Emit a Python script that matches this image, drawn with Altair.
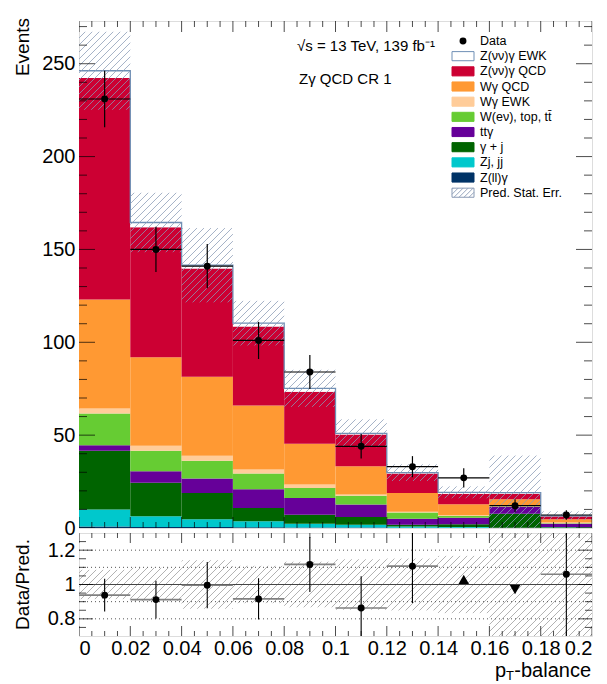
import numpy as np
import pandas as pd
import altair as alt

FONT = "Liberation Sans"

# ---------------------------------------------------------------- data
bin_lo = [0.00, 0.02, 0.04, 0.06, 0.08, 0.10, 0.12, 0.14, 0.16, 0.18]
bin_hi = [0.02, 0.04, 0.06, 0.08, 0.10, 0.12, 0.14, 0.16, 0.18, 0.20]
bin_mid = [0.01, 0.03, 0.05, 0.07, 0.09, 0.11, 0.13, 0.15, 0.17, 0.19]

# stacked predictions, bottom to top
proc_names = ["Z(ll)γ", "Zj, jj", "γ + j", "ttγ", "W(eν), top, tt\u0304",
              "Wγ EWK", "Wγ QCD", "Z(νν)γ QCD", "Z(νν)γ EWK"]
proc_colors = ["#003366", "#00c8cc", "#006400", "#660099", "#66cc33",
               "#ffcc99", "#ff9933", "#cc0033", "#ffffff"]

y_zll   = [0.8, 0.6, 0.5, 0.4, 0.3, 0.3, 0.2, 0.2, 0.1, 0.1]
y_zjjj  = [9.2, 5.7, 4.2, 3.2, 2.0, 1.5, 0.6, 0.3, 0.1, 0.2]
y_gj    = [31.6, 18.0, 14.2, 7.2, 4.9, 4.1, 1.0, 1.5, 7.5, 0.3]
y_ttg   = [3.0, 6.3, 7.7, 10.1, 9.0, 6.7, 3.2, 3.5, 3.6, 1.7]
y_wev   = [17.1, 11.0, 9.6, 8.4, 5.4, 4.7, 3.3, 1.0, 0.3, 0.3]
y_wgewk = [2.7, 2.7, 2.7, 2.2, 1.8, 0.7, 0.5, 0.5, 0.2, 0.3]
y_wgqcd = [58.6, 47.7, 42.5, 34.4, 22.0, 15.3, 10.1, 5.8, 3.7, 1.8]
y_zqcd  = [119.3, 70.0, 58.3, 42.6, 28.0, 17.1, 10.4, 5.7, 3.0, 1.6]
y_zewk  = [3.9, 2.5, 1.8, 1.8, 1.8, 0.6, 0.5, 0.7, 0.5, 0.3]
proc_yields = [y_zll, y_zjjj, y_gj, y_ttg, y_wev, y_wgewk, y_wgqcd, y_zqcd, y_zewk]

pred_stat_err = [21.0, 16.0, 20.0, 12.0, 10.0, 7.5, 4.5, 3.2, 20.0, 2.4]

data_events = [231, 150, 141, 101, 84, 44, 33, 27, 12, 7]
data_err = [15.2, 12.2, 11.9, 10.0, 9.2, 6.6, 5.7, 5.2, 3.5, 2.6]

# ratio panel: points inside the range, and arrows for those outside
ratio_x = [0.01, 0.03, 0.05, 0.07, 0.09, 0.11, 0.13, 0.19]
ratio_lo = [0.00, 0.02, 0.04, 0.06, 0.08, 0.10, 0.12, 0.18]
ratio_hi = [0.02, 0.04, 0.06, 0.08, 0.10, 0.12, 0.14, 0.20]
ratio_val = [0.938, 0.912, 0.996, 0.916, 1.117, 0.863, 1.107, 1.06]
ratio_err = [0.095, 0.11, 0.135, 0.12, 0.16, 0.185, 0.215, 0.42]
arrow_x = [0.15, 0.17]
arrow_y = [1.03, 0.97]
arrow_shape = ["triangle-up", "triangle-down"]

legend_labels = ["Data", "Z(νν)γ EWK", "Z(νν)γ QCD", "Wγ QCD", "Wγ EWK",
                 "W(eν), top, tt\u0304", "ttγ", "γ + j", "Zj, jj", "Z(ll)γ",
                 "Pred. Stat. Err."]

# ---------------------------------------------------------------- geometry
W, H = 513, 507          # upper pad plot area
RH = 103                 # ratio pad plot area
XDOM = [0.0, 0.2]
YDOM = [0.0, 273.0]
RDOM = [0.7, 1.3]
EWK_LINE = "#6f8fb5"
HATCH_MAIN = "#8a9bb5"
HATCH_RATIO = "#a9a9a9"

xs = alt.Scale(domain=XDOM, nice=False, zero=False)
ys = alt.Scale(domain=YDOM, nice=False, zero=False)
rs = alt.Scale(domain=RDOM, nice=False, zero=False)


def hatch_segments(x0, x1, y0, y1, ydom, h, spacing=7.0):
    """Diagonal '/' hatch lines filling a box, returned in data units."""
    span = ydom[1] - ydom[0]
    u0, u1 = x0 / XDOM[1] * W, x1 / XDOM[1] * W
    v0 = (max(y0, ydom[0]) - ydom[0]) / span * h
    v1 = (min(y1, ydom[1]) - ydom[0]) / span * h
    out = []
    k0 = int(np.floor((v0 - u1) / spacing))
    k1 = int(np.ceil((v1 - u0) / spacing))
    for k in range(k0, k1 + 1):
        c = k * spacing
        ua, ub = max(u0, v0 - c), min(u1, v1 - c)
        if ub - ua > 0.4:
            out.append({"hx": ua / W * XDOM[1], "hx2": ub / W * XDOM[1],
                        "hy": ydom[0] + (ua + c) / h * span,
                        "hy2": ydom[0] + (ub + c) / h * span})
    return out


# ---------------------------------------------------------------- upper pad
rows, totals = [], []
for i in range(len(bin_lo)):
    base = 0.0
    for name, vals in zip(proc_names, proc_yields):
        rows.append({"lo": bin_lo[i], "hi": bin_hi[i], "y0": base,
                     "y1": base + vals[i], "proc": name})
        base += vals[i]
    totals.append(base)
stack_df = pd.DataFrame(rows)

stack = alt.Chart(stack_df).mark_rect(strokeWidth=0).encode(
    x=alt.X("lo:Q", scale=xs, axis=None),
    x2="hi:Q",
    y=alt.Y("y0:Q", scale=ys,
            axis=alt.Axis(values=[0, 50, 100, 150, 200, 250], ticks=False,
                          domain=False, grid=False, labelFont=FONT,
                          labelFontSize=20, labelPadding=4, labelColor="black",
                          title=None)),
    y2="y1:Q",
    color=alt.Color("proc:N", scale=alt.Scale(domain=proc_names, range=proc_colors),
                    legend=None),
)

outline_df = pd.DataFrame({"edge": bin_lo + [bin_hi[-1]], "tot": totals + [totals[-1]]})
outline = alt.Chart(outline_df).mark_line(
    interpolate="step-after", color=EWK_LINE, strokeWidth=1.3, clip=True
).encode(x=alt.X("edge:Q", scale=xs), y=alt.Y("tot:Q", scale=ys))

hsegs = []
for i in range(len(bin_lo)):
    hsegs += hatch_segments(bin_lo[i], bin_hi[i], totals[i] - pred_stat_err[i],
                            totals[i] + pred_stat_err[i], YDOM, H)
hatch_main = alt.Chart(pd.DataFrame(hsegs)).mark_rule(
    color=HATCH_MAIN, strokeWidth=0.9, opacity=0.85, clip=True
).encode(x=alt.X("hx:Q", scale=xs), x2="hx2:Q",
         y=alt.Y("hy:Q", scale=ys), y2="hy2:Q")

data_df = pd.DataFrame({"lo": bin_lo, "hi": bin_hi, "mid": bin_mid,
                        "n": data_events, "err": data_err})
data_df["nlo"] = data_df["n"] - data_df["err"]
data_df["nhi"] = data_df["n"] + data_df["err"]
data_base = alt.Chart(data_df)
data_xbar = data_base.mark_rule(color="black", strokeWidth=1.2).encode(
    x=alt.X("lo:Q", scale=xs), x2="hi:Q", y=alt.Y("n:Q", scale=ys))
data_ybar = data_base.mark_rule(color="black", strokeWidth=1.2).encode(
    x=alt.X("mid:Q", scale=xs), y=alt.Y("nlo:Q", scale=ys), y2="nhi:Q")
data_pts = data_base.mark_circle(color="black", opacity=1, size=48).encode(
    x=alt.X("mid:Q", scale=xs), y=alt.Y("n:Q", scale=ys))

# inward ticks on all four sides of the upper pad
ymaj = [0, 50, 100, 150, 200, 250]
ymin = [v for v in range(0, 271, 10) if v % 50]
xmaj = [0.00, 0.02, 0.04, 0.06, 0.08, 0.10, 0.12, 0.14, 0.16, 0.18, 0.20]
xmin = [round(0.005 * k, 3) for k in range(41) if k % 4]

ytick_df = pd.DataFrame(
    [{"v": v, "pos": p, "len": 32} for v in ymaj for p in XDOM]
    + [{"v": v, "pos": p, "len": 16} for v in ymin for p in XDOM])
xtick_df = pd.DataFrame(
    [{"v": v, "pos": p, "len": 22} for v in xmaj for p in YDOM]
    + [{"v": v, "pos": p, "len": 12} for v in xmin for p in YDOM])
yticks_main = alt.Chart(ytick_df).mark_tick(
    orient="horizontal", color="black", thickness=1, clip=True
).encode(x=alt.X("pos:Q", scale=xs), y=alt.Y("v:Q", scale=ys),
         size=alt.Size("len:Q", scale=None))
xticks_main = alt.Chart(xtick_df).mark_tick(
    orient="vertical", color="black", thickness=1, clip=True
).encode(x=alt.X("v:Q", scale=xs), y=alt.Y("pos:Q", scale=ys),
         size=alt.Size("len:Q", scale=None))

def label(text, x, y, size, **kw):
    return alt.Chart(pd.DataFrame({"t": [text]})).mark_text(
        font=FONT, fontSize=size, color="black", **kw
    ).encode(text="t:N", x=alt.value(x), y=alt.value(y))

events_title = label("Events", -56, -3, 19, angle=270, align="right", baseline="middle")
energy = label("√s = 13 TeV, 139 fb⁻¹", 218, 25, 15, align="left", baseline="middle")
region = label("Zγ QCD CR 1", 220, 58, 15, align="left", baseline="middle")

main = alt.layer(stack, outline, hatch_main, data_xbar, data_ybar, data_pts,
                 yticks_main, xticks_main, events_title, energy, region)

# legend (own vertical scale: one row per entry)
LROW = alt.Scale(domain=[0, 10], range=[20, 171.7])
box_df = pd.DataFrame({
    "row": list(range(1, 11)),
    "name": legend_labels[1:],
    "fill": ["#ffffff", "#cc0033", "#ff9933", "#ffcc99", "#66cc33",
             "#660099", "#006400", "#00c8cc", "#003366", "#ffffff"],
    "edge": [EWK_LINE, "#cc0033", "#ff9933", "#ffcc99", "#66cc33",
             "#660099", "#006400", "#00c8cc", "#003366", HATCH_MAIN],
})
box_df["r0"] = box_df["row"] - 0.3
box_df["r1"] = box_df["row"] + 0.3
leg_boxes = alt.Chart(box_df).mark_rect(strokeWidth=1).encode(
    x=alt.value(373), x2=alt.value(395),
    y=alt.Y("r0:Q", scale=LROW, axis=None), y2="r1:Q",
    fill=alt.Fill("fill:N", scale=None), stroke=alt.Stroke("edge:N", scale=None))

# hatch inside the "Pred. Stat. Err." box
lh = []
u0, u1 = 373.0, 395.0
v0, v1 = 0.0, 0.6 * 15.17
for k in range(-80, 10):
    c = k * 5.0
    ua, ub = max(u0, v0 - c), min(u1, v1 - c)
    if ub - ua > 0.4:
        lh.append({"hx": ua / W * XDOM[1], "hx2": ub / W * XDOM[1],
                   "hy": 10.3 - (ua + c) / 15.17, "hy2": 10.3 - (ub + c) / 15.17})
leg_hatch = alt.Chart(pd.DataFrame(lh)).mark_rule(
    color=HATCH_MAIN, strokeWidth=0.9).encode(
    x=alt.X("hx:Q", scale=xs), x2="hx2:Q",
    y=alt.Y("hy:Q", scale=LROW, axis=None), y2="hy2:Q")

leg_dot = alt.Chart(pd.DataFrame({"row": [0]})).mark_circle(
    color="black", opacity=1, size=48).encode(
    x=alt.value(384), y=alt.Y("row:Q", scale=LROW, axis=None))
leg_text = alt.Chart(pd.DataFrame({"row": list(range(11)), "t": legend_labels})).mark_text(
    font=FONT, fontSize=12.5, align="left", baseline="middle", color="black"
).encode(x=alt.value(401), y=alt.Y("row:Q", scale=LROW, axis=None), text="t:N")

legend = alt.layer(leg_boxes, leg_hatch, leg_dot, leg_text)

upper = alt.layer(main, legend).resolve_scale(y="independent").properties(width=W, height=H)

# ---------------------------------------------------------------- ratio pad
rsegs = []
for i in range(len(bin_lo)):
    rel = pred_stat_err[i] / totals[i]
    rsegs += hatch_segments(bin_lo[i], bin_hi[i], 1 - rel, 1 + rel, RDOM, RH)
hatch_ratio = alt.Chart(pd.DataFrame(rsegs)).mark_rule(
    color=HATCH_RATIO, strokeWidth=0.9, clip=True
).encode(x=alt.X("hx:Q", scale=xs, axis=alt.Axis(
            values=xmaj, format=".2~f", ticks=False, domain=False, grid=False,
            labelFont=FONT, labelFontSize=20, labelPadding=2,
            labelColor="black", title=None)),
         x2="hx2:Q",
         y=alt.Y("hy:Q", scale=rs, axis=alt.Axis(
            values=[0.8, 1.0, 1.2], format="~g", ticks=False, domain=False,
            grid=False, labelFont=FONT, labelFontSize=20, labelPadding=4,
            labelColor="black", title=None)),
         y2="hy2:Q")

grid_df = pd.DataFrame({"g": [0.8, 0.9, 1.1, 1.2]})
grid = alt.Chart(grid_df).mark_rule(color="#555555", strokeWidth=1,
                                    strokeDash=[1, 3]).encode(
    x=alt.value(0), x2=alt.value(W), y=alt.Y("g:Q", scale=rs))
unity = alt.Chart(pd.DataFrame({"g": [1.0]})).mark_rule(
    color="#444444", strokeWidth=1.2).encode(
    x=alt.value(0), x2=alt.value(W), y=alt.Y("g:Q", scale=rs))

rdf = pd.DataFrame({"x": ratio_x, "lo": ratio_lo, "hi": ratio_hi,
                    "r": ratio_val, "e": ratio_err})
rdf["rlo"] = rdf["r"] - rdf["e"]
rdf["rhi"] = rdf["r"] + rdf["e"]
rbase = alt.Chart(rdf)
r_xbar = rbase.mark_rule(color="#808080", strokeWidth=1.6, clip=True).encode(
    x=alt.X("lo:Q", scale=xs), x2="hi:Q", y=alt.Y("r:Q", scale=rs))
r_ybar = rbase.mark_rule(color="black", strokeWidth=1.1, clip=True).encode(
    x=alt.X("x:Q", scale=xs), y=alt.Y("rlo:Q", scale=rs), y2="rhi:Q")
r_pts = rbase.mark_circle(color="black", opacity=1, size=48).encode(
    x=alt.X("x:Q", scale=xs), y=alt.Y("r:Q", scale=rs))
r_arrows = alt.Chart(pd.DataFrame({"x": arrow_x, "y": arrow_y, "s": arrow_shape})).mark_point(
    filled=True, color="black", opacity=1, size=110).encode(
    x=alt.X("x:Q", scale=xs), y=alt.Y("y:Q", scale=rs),
    shape=alt.Shape("s:N", scale=None))

rymaj = [0.8, 1.0, 1.2]
rymin = [0.75, 0.85, 0.9, 0.95, 1.05, 1.1, 1.15, 1.25]
rytick_df = pd.DataFrame(
    [{"v": v, "pos": p, "len": 28} for v in rymaj for p in XDOM]
    + [{"v": v, "pos": p, "len": 14} for v in rymin for p in XDOM])
rxtick_df = pd.DataFrame(
    [{"v": v, "pos": p, "len": 20} for v in xmaj for p in RDOM]
    + [{"v": v, "pos": p, "len": 10} for v in xmin for p in RDOM])
yticks_ratio = alt.Chart(rytick_df).mark_tick(
    orient="horizontal", color="black", thickness=1, clip=True
).encode(x=alt.X("pos:Q", scale=xs), y=alt.Y("v:Q", scale=rs),
         size=alt.Size("len:Q", scale=None))
xticks_ratio = alt.Chart(rxtick_df).mark_tick(
    orient="vertical", color="black", thickness=1, clip=True
).encode(x=alt.X("v:Q", scale=xs), y=alt.Y("pos:Q", scale=rs),
         size=alt.Size("len:Q", scale=None))

ratio_title = label("Data/Pred.", -56, RH / 2, 19, angle=270, align="center",
                    baseline="middle")
xt_main = label("-balance", W - 1, RH + 35, 20, align="right", baseline="middle")
xt_sub = label("T", W - 78, RH + 40, 13, align="right", baseline="middle")
xt_p = label("p", W - 86, RH + 35, 20, align="right", baseline="middle")

ratio = alt.layer(hatch_ratio, grid, unity, r_xbar, r_ybar, r_pts, r_arrows,
                  yticks_ratio, xticks_ratio, ratio_title, xt_main, xt_sub, xt_p
                  ).properties(width=W, height=RH)

chart = alt.vconcat(upper, ratio, spacing=5, bounds="flush").properties(
    padding={"left": 13, "top": 17, "right": 5, "bottom": 5}
).configure_view(stroke="black", strokeWidth=1).configure(font=FONT)

chart.save("out.html", embed_options={"renderer": "svg", "actions": False})
